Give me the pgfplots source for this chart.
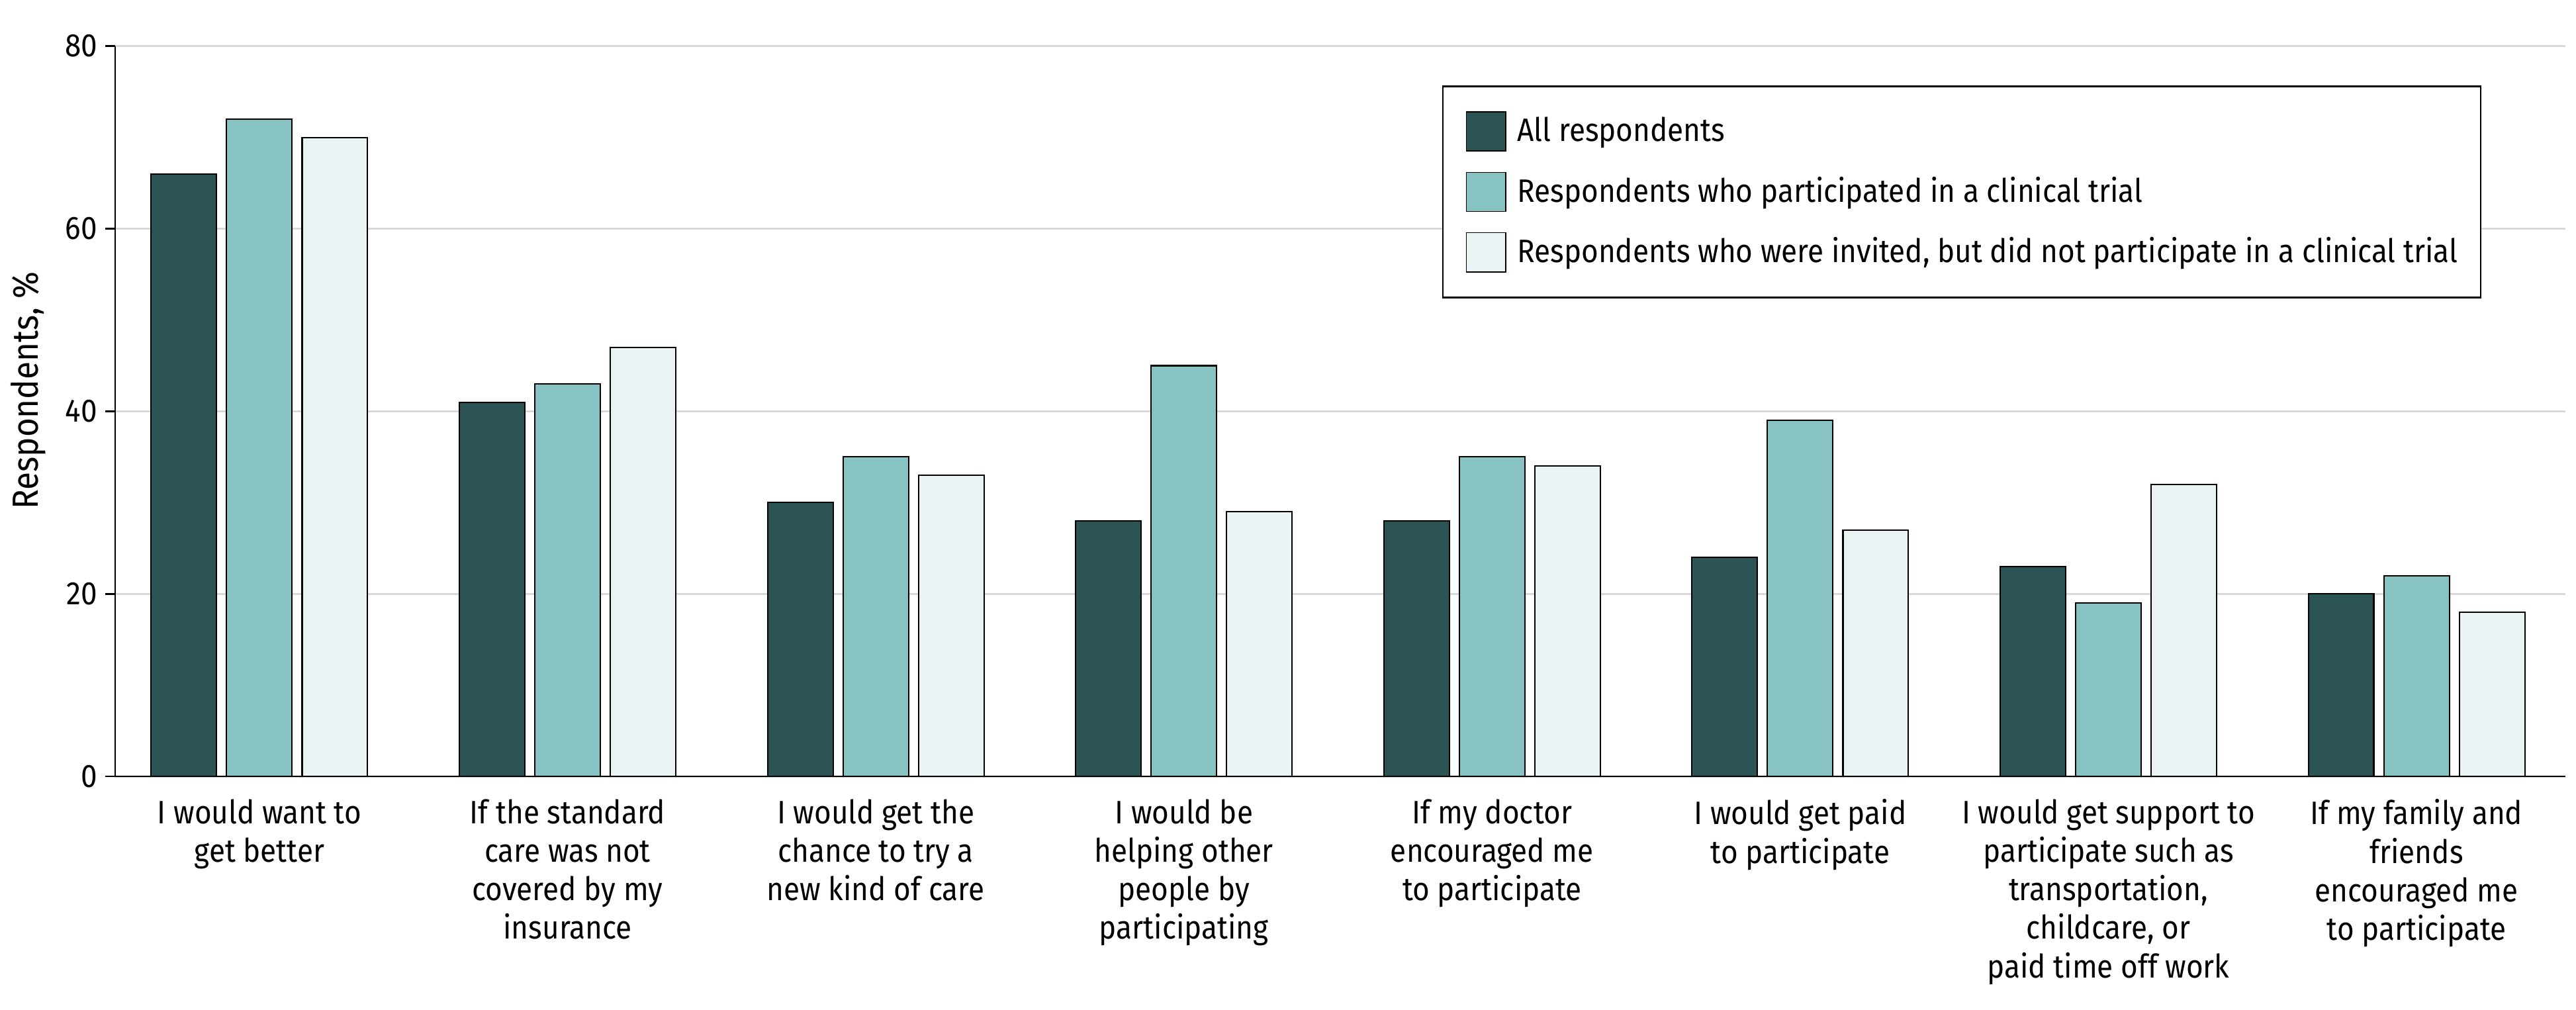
\documentclass[border=0pt]{standalone}
\usepackage{pgfplots}
\pgfplotsset{compat=1.18}
\usepackage{fontspec}
\setmainfont{Fira Sans}[FakeStretch=0.9]
\definecolor{cdark}{RGB}{44,84,84}
\definecolor{cteal}{RGB}{135,195,194}
\definecolor{clight}{RGB}{234,243,244}
\definecolor{gridgray}{RGB}{217,217,217}
\begin{document}
\begin{tikzpicture}[font=\fontsize{10.7}{12.7}\selectfont]
\begin{axis}[
  scale only axis, width=808.3pt, height=241pt,
  xmin=-0.468, xmax=7.483, ymin=0, ymax=80,
  ybar=3.3pt, bar width=21.6pt,
  axis x line*=bottom, axis y line*=left,
  axis line style={line width=0.5pt, black},
  ytick={0,20,40,60,80},
  xtick={0,1,2,3,4,5,6,7},
  xticklabels={
    {I would want to\\get better},
    {If the standard\\care was not\\covered by my\\insurance},
    {I would get the\\chance to try a\\new kind of care},
    {I would be\\helping other\\people by\\participating},
    {If my doctor\\encouraged me\\to participate},
    {I would get paid\\to participate},
    {I would get support to\\participate such as\\transportation,\\childcare, or\\paid time off work},
    {If my family and\\friends\\encouraged me\\to participate}},
  tick align=outside, major tick length=3.3pt,
  xtick style={draw=none},
  ytick style={line width=0.5pt, black},
  ymajorgrids, grid style={line width=0.7pt, gridgray},
  /pgf/number format/assume math mode=true,
  yticklabel style={inner sep=0pt, xshift=-2.4pt},
  xticklabel style={align=center, inner sep=0pt, yshift=-4pt, font=\fontsize{10.7}{12.7}\selectfont},
  ylabel={Respondents, \%},
  ylabel style={at={(axis description cs:-0.0429,0.365)}, anchor=north west, inner sep=0pt, font=\fontsize{12}{14}\selectfont},
  legend style={at={(rel axis cs:0.5415,0.946)}, anchor=north west, draw=black, line width=0.5pt,
    inner xsep=7.6pt, inner ysep=8.3pt, row sep=6.6pt, nodes={inner sep=0pt},
    font=\fontsize{10.7}{12.7}\selectfont,
    /tikz/every odd column/.append style={column sep=3.7pt}},
  legend cell align=left,
  legend image code/.code={\draw[#1, draw=black, line width=0.4pt] (0pt,-6.45pt) rectangle (12.9pt,6.45pt);},
]
\addplot[fill=cdark, draw=black, line width=0.45pt] coordinates {(0,66) (1,41) (2,30) (3,28) (4,28) (5,24) (6,23) (7,20)};
\addplot[fill=cteal, draw=black, line width=0.45pt] coordinates {(0,72) (1,43) (2,35) (3,45) (4,35) (5,39) (6,19) (7,22)};
\addplot[fill=clight, draw=black, line width=0.45pt] coordinates {(0,70) (1,47) (2,33) (3,29) (4,34) (5,27) (6,32) (7,18)};
\legend{All respondents, Respondents who participated in a clinical trial, {Respondents who were invited, but did not participate in a clinical trial}}
\end{axis}
\path (current axis.south west) ++(-38.0pt,-76.9pt) coordinate (bl);
\path (current axis.north east) ++(3.5pt,15.2pt) coordinate (tr);
\pgfresetboundingbox
\path (bl) rectangle (tr);
\end{tikzpicture}
\end{document}
